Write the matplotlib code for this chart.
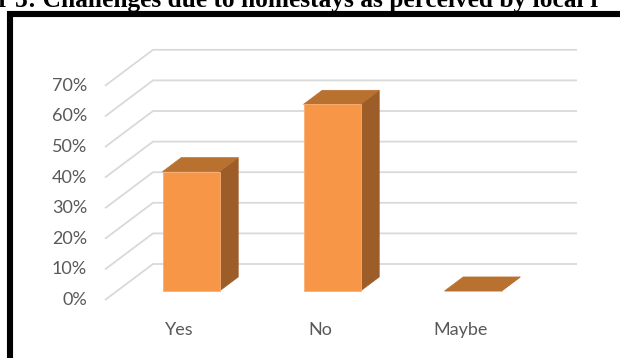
import matplotlib
matplotlib.use('Agg')
import matplotlib.pyplot as plt
from matplotlib.patches import Polygon, Rectangle

# ---- data ----
categories = ['Yes', 'No', 'Maybe']
values = [39, 61, 0]
ytick_values = [0, 10, 20, 30, 40, 50, 60, 70]
ytick_labels = ['0%', '10%', '20%', '30%', '40%', '50%', '60%', '70%']
title_text = 'r 3: Challenges due to homestays as perceived by local r'

# ---- layout ----
W, H = 620, 358
fig = plt.figure(figsize=(W / 100, H / 100), dpi=100)
ax = fig.add_axes([0, 0, 1, 1])
X0, XS = 179, 141      # pixel position of category 0, pixels per category
Y0, YS = 300, 3.06     # pixel row of 0% on the front plane, pixels per percent
ax.set_xlim(-X0 / XS, (W - X0) / XS)
ax.set_ylim((Y0 - H) / YS, Y0 / YS)
ax.axis('off')

DX = 48 / XS   # depth offset (x) for full floor depth
DY = 36 / YS   # depth offset (y) for full floor depth


def proj(x, v, d):
    return (x + d * DX, v + d * DY)


grid_color = '#d9d9d9'
text_color = '#595959'
x_left = (105 - X0) / XS
x_right = (577 - X0) / XS - DX

for v in ytick_values:
    pts = [proj(x_left, v, 0), proj(x_left, v, 1), proj(x_right, v, 1)]
    ax.plot([p[0] for p in pts], [p[1] for p in pts], color=grid_color,
            lw=1.3, zorder=1, solid_capstyle='butt')

for v, lab in zip(ytick_values, ytick_labels):
    ax.text((87 - X0) / XS, v, lab, ha='right', va='center', fontsize=13,
            color=text_color, family='Lato')

for i, c in enumerate(categories):
    ax.text(i, -9.8, c, ha='center', va='center', fontsize=13,
            color=text_color, family='Lato')

front_c = '#F79646'
top_c = '#B8712F'
side_c = '#9C5D29'
bw = 57 / XS
d0, d1 = 0.25, 0.64
for i, v in enumerate(values):
    xl, xr = i - bw / 2, i + bw / 2
    side = [proj(xr, 0, d0), proj(xr, v, d0), proj(xr, v, d1), proj(xr, 0, d1)]
    top = [proj(xl, v, d0), proj(xr, v, d0), proj(xr, v, d1), proj(xl, v, d1)]
    front = [proj(xl, 0, d0), proj(xr, 0, d0), proj(xr, v, d0), proj(xl, v, d0)]
    ax.add_patch(Polygon(side, closed=True, facecolor=side_c, edgecolor=side_c, lw=0.5, zorder=3))
    ax.add_patch(Polygon(top, closed=True, facecolor=top_c, edgecolor=top_c, lw=0.5, zorder=3))
    ax.add_patch(Polygon(front, closed=True, facecolor=front_c, edgecolor='#F9AE74', lw=0.6, zorder=4))

# border box (extends beyond the visible picture)
border = Rectangle((10 / W, -0.2), 1.3, (H - 14) / H + 0.2, transform=fig.transFigure,
                   fill=False, edgecolor='black', lw=4.4, clip_on=False)
fig.add_artist(border)

fig.text(-2 / W, 1 - 7.5 / H, title_text, ha='left', va='baseline',
         family='Liberation Serif', fontweight='bold', fontsize=18.3, color='black')

fig.savefig('out.png', dpi=100)
